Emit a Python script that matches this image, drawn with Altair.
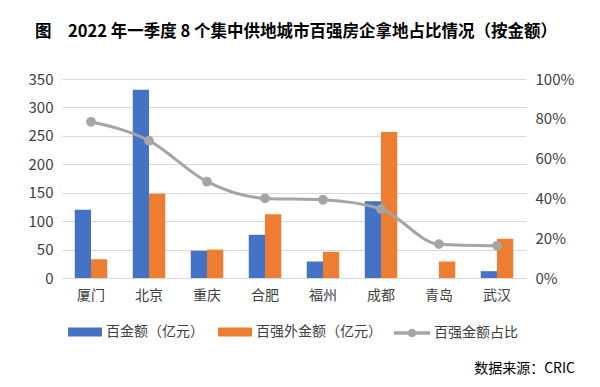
import altair as alt
import pandas as pd

# ---- data ----
cities = ["厦门", "北京", "重庆", "合肥", "福州", "成都", "青岛", "武汉"]
top100_amount = [120, 331, 48, 76, 29, 135, 0, 12]      # 百金额（亿元）
other_amount = [33, 148, 50, 112, 46, 257, 29, 69]      # 百强外金额（亿元）
top100_share = [0.785, 0.69, 0.484, 0.40, 0.393, 0.347, 0.17, 0.162]  # 百强金额占比
series_names = ["百金额（亿元）", "百强外金额（亿元）"]
line_name = "百强金额占比"
left_ticks = [0, 50, 100, 150, 200, 250, 300, 350]
right_ticks = [0, 0.2, 0.4, 0.6, 0.8, 1.0]
title_text = "图　2022 年一季度 8 个集中供地城市百强房企拿地占比情况（按金额）"
source_text = "数据来源：CRIC"

bars_df = pd.DataFrame({
    "city": cities * 2,
    "series": [series_names[0]] * len(cities) + [series_names[1]] * len(cities),
    "value": top100_amount + other_amount,
})
line_df = pd.DataFrame({"city": cities, "share": top100_share, "name": [line_name] * len(cities)})
source_df = pd.DataFrame({"t": [source_text]})

FONT = "Noto Sans CJK SC"
TXT = "#404040"

x_enc = alt.X(
    "city:N", sort=cities, title=None,
    scale=alt.Scale(paddingInner=0.44, paddingOuter=0.22),
    axis=alt.Axis(labelAngle=0, labelFontSize=14, labelFont=FONT, labelColor=TXT,
                  domain=False, ticks=False, labelPadding=10, grid=False),
)

rect_path = "M-1,-0.26H1V0.26H-1Z"
line_path = ("M-1,-0.095H1V0.095H-1Z "
             "M-0.24,0A0.24,0.24 0 1,1 0.24,0A0.24,0.24 0 1,1 -0.24,0Z")

bars = alt.Chart(bars_df).mark_bar().encode(
    x=x_enc,
    xOffset=alt.XOffset("series:N", sort=series_names, scale=alt.Scale(paddingInner=0)),
    y=alt.Y("value:Q", title=None, scale=alt.Scale(domain=[0, 350]),
            axis=alt.Axis(values=left_ticks, grid=True, gridColor="#D9D9D9", gridWidth=1,
                          domain=False, ticks=False, labelPadding=9, labelFontSize=15,
                          labelFont=FONT, labelColor=TXT)),
    fill=alt.Fill("series:N", sort=series_names,
                  scale=alt.Scale(domain=series_names, range=["#4472C4", "#ED7D31"]),
                  legend=alt.Legend(title=None, orient="none", legendX=6, legendY=236,
                                    direction="horizontal", symbolType=rect_path,
                                    symbolSize=1156, symbolStrokeWidth=0,
                                    labelFontSize=14, labelFont=FONT, labelColor=TXT,
                                    labelOffset=4, columnPadding=14)),
)

line = alt.Chart(line_df).mark_line(
    interpolate="monotone", strokeWidth=3,
    point=alt.OverlayMarkDef(filled=True, fill="#A5A5A5", stroke="#A5A5A5", size=60),
).encode(
    x=x_enc,
    y=alt.Y("share:Q", title=None, scale=alt.Scale(domain=[0, 1]),
            axis=alt.Axis(orient="right", format="%", values=right_ticks, grid=False,
                          domain=False, ticks=False, labelPadding=9, labelFontSize=15,
                          labelFont=FONT, labelColor=TXT)),
    stroke=alt.Stroke("name:N", scale=alt.Scale(domain=[line_name], range=["#A5A5A5"]),
                      legend=alt.Legend(title=None, orient="none", legendX=332, legendY=236,
                                        symbolType=line_path, symbolSize=1296,
                                        symbolFillColor="#A5A5A5", symbolStrokeWidth=0,
                                        labelFontSize=14, labelFont=FONT, labelColor=TXT,
                                        labelOffset=4)),
)

source = alt.Chart(source_df).mark_text(
    align="right", baseline="middle", fontSize=14, font=FONT, color="#000000"
).encode(x=alt.value(513), y=alt.value(290), text="t:N")

chart = alt.layer(bars, line, source).resolve_scale(y="independent").properties(
    width=464, height=199,
    autosize=alt.AutoSizeParams(type="none"),
    padding={"left": 54, "top": 71, "right": 66, "bottom": 101},
    title=alt.TitleParams(title_text, fontSize=16.5, fontWeight="bold", font=FONT,
                          anchor="middle", frame="group", dx=2, offset=32, color="#000000"),
).configure_view(stroke=None)

chart.save("out.html", embed_options={"renderer": "svg", "actions": False})
